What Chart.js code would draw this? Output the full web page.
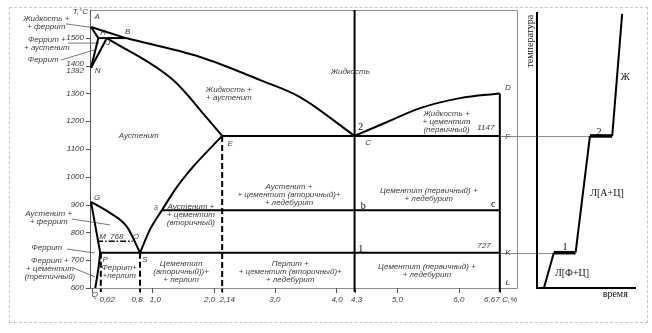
<!DOCTYPE html>
<html>
<head>
<meta charset="utf-8">
<script src="https://cdn.jsdelivr.net/npm/chart.js@4.4.0/dist/chart.umd.min.js"></script>
<style>
  body { margin: 0; background: #fff; }
  #wrap { position: relative; width: 652px; height: 333px; }
  #frame { position: absolute; left: 9px; top: 7px; width: 637px; height: 314px; border: 1px dashed #c6c6c6; }
  #diagram { position: absolute; left: 0; top: 0; }
  #cooling { position: absolute; left: 520px; top: 0; }
</style>
</head>
<body>
<div id="wrap">
  <div id="frame"></div>
  <canvas id="diagram" width="520" height="333"></canvas>
  <canvas id="cooling" width="132" height="333"></canvas>
</div>
<script>
// Fe–Fe3C diagram, points as [carbon %, temperature °C]
const lineAB = [[0, 1539], [0.57, 1499]];
const lineBC = [[0.57, 1499], [1.78, 1431], [2.76, 1348], [3.41, 1287], [4.3, 1147]];
const lineAH = [[0, 1539], [0.12, 1499]];
const lineHB = [[0.12, 1499], [0.57, 1499]];
const lineNH = [[0, 1392], [0.12, 1499]];
const lineNJ = [[0, 1392], [0.26, 1499]];
const lineJE = [[0.26, 1499], [1.34, 1348], [1.89, 1212], [2.14, 1147]];
const lineECF = [[2.14, 1147], [6.67, 1147]];
const lineCD = [[4.3, 1147], [4.83, 1197], [5.37, 1247], [6.02, 1283], [6.67, 1300]];
const lineDL = [[6.67, 1300], [6.67, 586]];
const alloy43 = [[4.3, 1600], [4.3, 586]];
const lineSE = [[0.8, 727], [0.96, 809], [1.16, 881], [1.40, 963], [1.66, 1035], [2.14, 1147]];
const lineGS = [[0, 910], [0.31, 870], [0.59, 819], [0.8, 727]];
const lineGP = [[0, 910], [0.15, 727]];
const lineQP = [[0.07, 600], [0.12, 670], [0.15, 727]];
const linePSK = [[0.15, 727], [6.67, 727]];
const lineAbc = [[1.16, 880], [6.67, 880]];
const lineMO = [[0.1, 768], [0.68, 768]];
const dashP = [[0.16, 727], [0.16, 586]];
const dashS = [[0.8, 727], [0.8, 586]];
const dashE = [[2.14, 1147], [2.14, 586]];

// leader lines from the side captions
const leaders = [
  [[-0.41, 1550], [0.08, 1535]],
  [[-0.375, 1481], [0.13, 1481]],
  [[-0.49, 1420], [0.05, 1456]],
  [[-0.31, 848], [0.31, 827]],
  [[-0.39, 740], [0.065, 726]],
  [[-0.29, 672], [0.065, 640]]
];

// axis ticks
const tempTicks = [1500, 1400, 1392, 1300, 1200, 1100, 1000, 900, 800, 700, 600];
const carbonTicks = [0.02, 0.8, 1.0, 2.0, 2.14, 3.0, 4.0, 4.3, 5.0, 6.0, 6.67];
const carbonTickLabels = ['0,02', '0,8', '1,0', '2,0', '2,14', '3,0', '4,0', '4,3', '5,0', '6,0', '6,67'];

// cooling curve of the 4.3 % C alloy
const coolTime = [0.7, 1.7, 3.9, 5.35, 7.6, 8.6];
const coolTemp = [600, 727, 727, 1147, 1147, 1586];

const regionText = [
  { t: ['Жидкость'], x: 4.23, y: 1377 },
  { t: ['Жидкость +', '+ аустенит'], x: 2.25, y: 1312 },
  { t: ['Жидкость +', '+ цементит', '(первичный)'], x: 5.8, y: 1226 },
  { t: ['Аустенит'], x: 0.78, y: 1147 },
  { t: ['Аустенит +', '+ цементит (вторичный)+', '+ ледебурит'], x: 3.23, y: 963 },
  { t: ['Цементит (первичный) +', '+ ледебурит'], x: 5.51, y: 949 },
  { t: ['Аустенит +', '+ цементит', '(вторичный)'], x: 1.63, y: 891 },
  { t: ['Феррит+', '+перлит'], x: 0.46, y: 672 },
  { t: ['Цементит', '(вторичный))+', '+ перлит'], x: 1.47, y: 686 },
  { t: ['Перлит +', '+ цементит (вторичный)+', '+ ледебурит'], x: 3.25, y: 686 },
  { t: ['Цементит (первичный) +', '+ ледебурит'], x: 5.48, y: 676 },
  { t: ['Жидкость +', '+ феррит'], x: -0.73, y: 1568 },
  { t: ['Феррит +', '+ аустенит'], x: -0.72, y: 1492 },
  { t: ['Феррит'], x: -0.78, y: 1420 },
  { t: ['Аустенит +', '+ феррит'], x: -0.69, y: 866 },
  { t: ['Феррит'], x: -0.72, y: 744 },
  { t: ['Феррит +', '+ цементит', '(третичный)'], x: -0.67, y: 697 }
];

const pointText = [
  ['A', 0.1, 1575], ['H', 0.2, 1517], ['B', 0.6, 1521], ['J', 0.28, 1481], ['N', 0.11, 1381],
  ['G', 0.1, 924], ['M', 0.19, 783], ['768', 0.42, 783], ['O', 0.73, 783],
  ['P', 0.23, 701], ['S', 0.88, 701], ['Q', 0.065, 575],
  ['E', 2.27, 1118], ['C', 4.52, 1122], ['D', 6.8, 1319], ['F', 6.8, 1143],
  ['1147', 6.44, 1176], ['727', 6.41, 751], ['K', 6.8, 726], ['L', 6.8, 618]
];

const markText = [
  ['a', 1.06, 891, '#9a6a2a'], ['b', 4.44, 895, '#000'], ['c', 6.56, 902, '#000'],
  ['1', 4.4, 740, '#000'], ['2', 4.4, 1179, '#000']
];

const coolText = [
  ['Ж', 8.9, 1359], ['Л[А+Ц]', 7.07, 942], ['Л[Ф+Ц]', 3.54, 654], ['2', 6.26, 1161], ['1', 2.83, 747]
];

const SANS = 'italic 8px "Liberation Sans", Arial, sans-serif';
const SERIF = '10px "Liberation Serif", "Times New Roman", serif';
const INK = '#3a3a3a';

function pts(arr) {
  return arr.map(([x, y]) => ({ x, y }));
}

function line(arr, extra) {
  return Object.assign({
    data: pts(arr),
    showLine: true,
    pointRadius: 0,
    borderColor: '#000',
    borderWidth: 2,
    clip: false
  }, extra || {});
}

const curve = { cubicInterpolationMode: 'monotone' };
const dashed = { borderDash: [6, 3] };

const datasets = [
  line(lineAB), line(lineBC, curve), line(lineAH), line(lineHB), line(lineNH), line(lineNJ),
  line(lineJE, curve), line(lineECF), line(lineCD, curve), line(lineDL), line(alloy43),
  line(lineSE, curve), line(lineGS, curve), line(lineGP), line(lineQP, curve),
  line(linePSK), line(lineAbc),
  line(lineMO, { borderDash: [6, 2, 1.5, 2], borderWidth: 1.5 }),
  line(dashP, dashed), line(dashS, dashed), line(dashE, dashed)
];
leaders.forEach(l => datasets.push(line(l, { borderColor: '#555', borderWidth: 0.8 })));

function drawLines(ctx, lines, font, color, x, y, align) {
  ctx.font = font;
  ctx.fillStyle = color;
  ctx.textAlign = align || 'center';
  ctx.textBaseline = 'middle';
  lines.forEach((s, i) => ctx.fillText(s, x, y + i * 8));
}

const diagramDecor = {
  id: 'diagramDecor',
  beforeDatasetsDraw(chart) {
    const { ctx, scales: { x, y } } = chart;
    const L = x.getPixelForValue(0), R = x.getPixelForValue(x.max);
    const T = y.getPixelForValue(y.max), B = y.getPixelForValue(600);
    ctx.save();
    ctx.lineWidth = 1;
    ctx.strokeStyle = '#8c8c8c';
    ctx.beginPath();
    ctx.moveTo(L, T + 0.5); ctx.lineTo(R + 0.5, T + 0.5); ctx.lineTo(R + 0.5, B + 0.5); ctx.lineTo(L, B + 0.5);
    ctx.stroke();
    // thin links to the cooling curve at 1147 and 727
    [coolTemp[3], coolTemp[1]].forEach(t => {
      const yy = Math.round(y.getPixelForValue(t)) + 0.5;
      ctx.beginPath();
      ctx.moveTo(x.getPixelForValue(6.67), yy); ctx.lineTo(chart.width, yy);
      ctx.stroke();
    });
    // temperature axis
    ctx.strokeStyle = '#555';
    ctx.beginPath();
    ctx.moveTo(L - 0.5, T); ctx.lineTo(L - 0.5, B + 1);
    tempTicks.forEach(v => {
      if (v === 1392) return;
      const yy = Math.round(y.getPixelForValue(v)) + 0.5;
      ctx.moveTo(L - 5, yy); ctx.lineTo(L, yy);
    });
    carbonTicks.forEach(v => {
      const xx = Math.round(x.getPixelForValue(v)) + 0.5;
      ctx.moveTo(xx, B); ctx.lineTo(xx, B + 5);
    });
    ctx.stroke();
    ctx.restore();
  },
  afterDraw(chart) {
    const { ctx, scales: { x, y } } = chart;
    const L = x.getPixelForValue(0), B = y.getPixelForValue(600);
    ctx.save();
    // temperature tick labels
    tempTicks.forEach(v => {
      const dy = v === 1392 ? 3 : (v === 1400 ? -2 : 0);
      drawLines(ctx, [String(v)], SANS, INK, L - 7, y.getPixelForValue(v) + dy, 'right');
    });
    drawLines(ctx, ['T,°C'], SANS, INK, L - 3, y.getPixelForValue(1593), 'right');
    // carbon tick labels, nudged apart where they crowd
    const nudge = { '0,02': 15, '0,8': -3, '1,0': 3, '2,0': -4, '2,14': 5, '4,0': 1, '4,3': 2, '6,67': -8 };
    carbonTicks.forEach((v, i) => {
      const s = carbonTickLabels[i];
      drawLines(ctx, [s], SANS, INK, x.getPixelForValue(v) + (nudge[s] || 0), B + 12);
    });
    drawLines(ctx, ['C,%'], SANS, INK, x.getPixelForValue(6.67) + 10, B + 12);
    regionText.forEach(r => drawLines(ctx, r.t, SANS, INK, x.getPixelForValue(r.x), y.getPixelForValue(r.y)));
    pointText.forEach(([s, px, py]) => drawLines(ctx, [s], SANS, INK, x.getPixelForValue(px), y.getPixelForValue(py)));
    markText.forEach(([s, px, py, c]) => drawLines(ctx, [s], SERIF, c, x.getPixelForValue(px), y.getPixelForValue(py)));
    ctx.restore();
  }
};

new Chart(document.getElementById('diagram'), {
  type: 'scatter',
  data: { datasets },
  options: {
    responsive: false,
    animation: false,
    devicePixelRatio: 1,
    layout: { padding: { left: 91, right: 3, top: 10, bottom: 45 } },
    scales: {
      x: { type: 'linear', min: 0, max: 6.95, display: false },
      y: { type: 'linear', min: 600, max: 1600, display: false }
    },
    plugins: { legend: { display: false }, tooltip: { enabled: false } }
  },
  plugins: [diagramDecor]
});

const coolDecor = {
  id: 'coolDecor',
  beforeDatasetsDraw(chart) {
    const { ctx, scales: { x, y } } = chart;
    const L = x.getPixelForValue(0), R = x.getPixelForValue(x.max);
    const T = y.getPixelForValue(1593), B = y.getPixelForValue(600);
    ctx.save();
    ctx.strokeStyle = '#8c8c8c';
    ctx.lineWidth = 1;
    [[coolTemp[3], coolTime[3]], [coolTemp[1], coolTime[1]]].forEach(([t, tm]) => {
      const yy = Math.round(y.getPixelForValue(t)) + 0.5;
      ctx.beginPath();
      ctx.moveTo(0, yy); ctx.lineTo(x.getPixelForValue(tm), yy);
      ctx.stroke();
    });
    ctx.strokeStyle = '#000';
    ctx.lineWidth = 2;
    ctx.beginPath();
    ctx.moveTo(L, T); ctx.lineTo(L, B); ctx.lineTo(R, B);
    ctx.stroke();
    ctx.restore();
  },
  afterDraw(chart) {
    const { ctx, scales: { x, y } } = chart;
    ctx.save();
    coolText.forEach(([s, px, py]) => drawLines(ctx, [s], SERIF, '#111', x.getPixelForValue(px), y.getPixelForValue(py)));
    drawLines(ctx, ['время'], SERIF, '#111', x.getPixelForValue(7.9), y.getPixelForValue(578));
    ctx.translate(x.getPixelForValue(-0.7), y.getPixelForValue(1488));
    ctx.rotate(-Math.PI / 2);
    drawLines(ctx, ['температура'], SERIF, '#111', 0, 0);
    ctx.restore();
  }
};

new Chart(document.getElementById('cooling'), {
  type: 'scatter',
  data: {
    datasets: [{
      data: coolTime.map((t, i) => ({ x: t, y: coolTemp[i] })),
      showLine: true,
      pointRadius: 0,
      borderColor: '#000',
      borderWidth: 2,
      clip: false,
      segment: { borderWidth: c => (c.p0.parsed.y === c.p1.parsed.y ? 3.5 : 2) }
    }]
  },
  options: {
    responsive: false,
    animation: false,
    devicePixelRatio: 1,
    layout: { padding: { left: 17, right: 16, top: 10, bottom: 45 } },
    scales: {
      x: { type: 'linear', min: 0, max: 10, display: false },
      y: { type: 'linear', min: 600, max: 1600, display: false }
    },
    plugins: { legend: { display: false }, tooltip: { enabled: false } }
  },
  plugins: [coolDecor]
});
</script>
</body>
</html>
